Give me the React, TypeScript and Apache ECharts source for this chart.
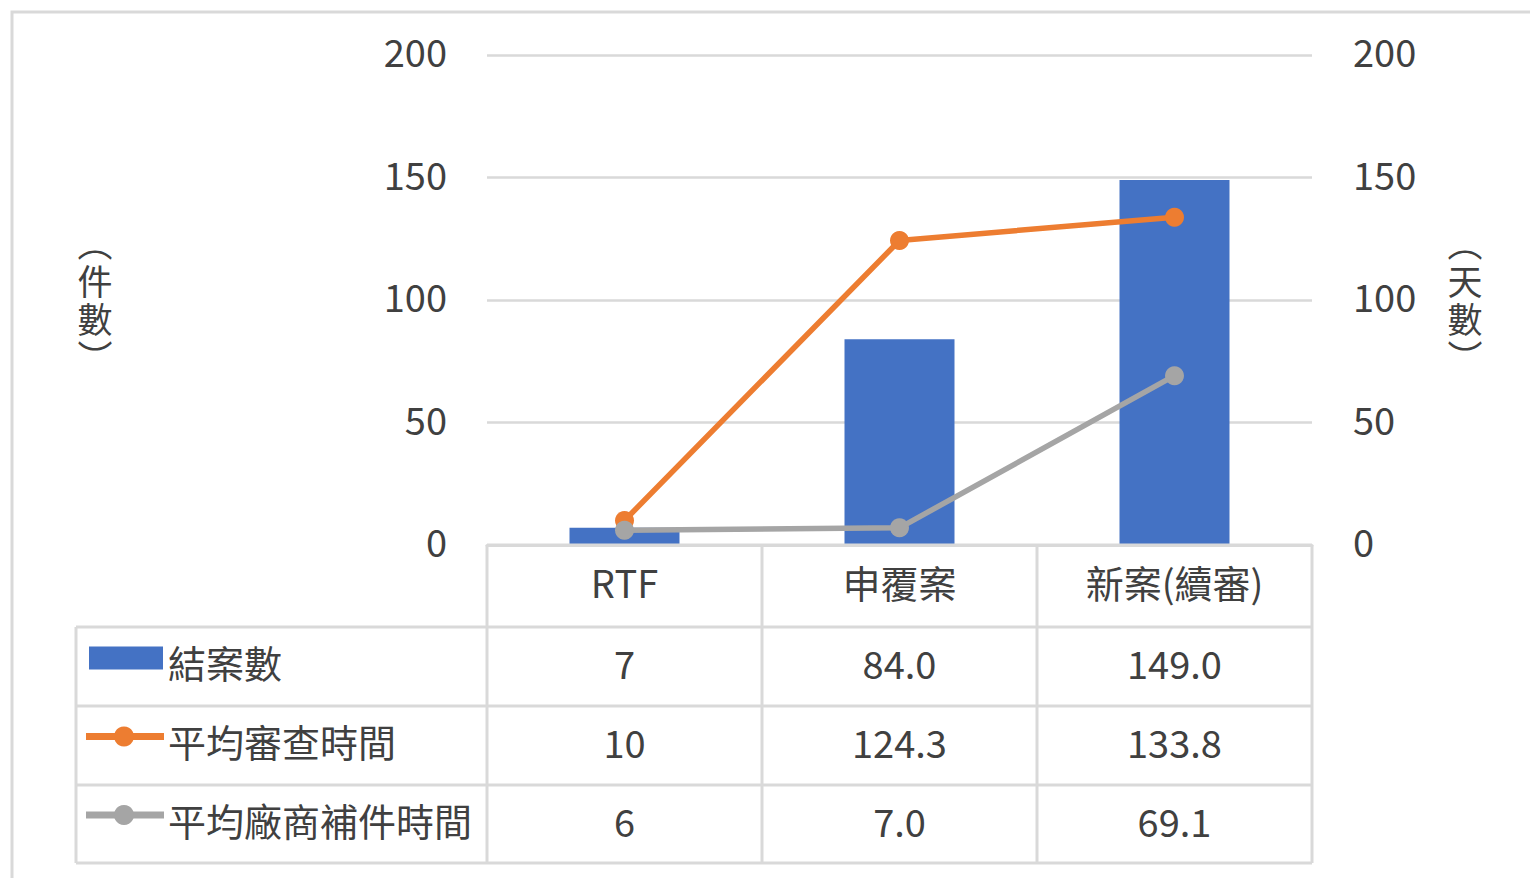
import React, { useEffect, useRef } from "react";
import * as echarts from "echarts";

// Categories and series values
const categories = ["RTF", "申覆案", "新案(續審)"];
const closedCases = [7, 84.0, 149.0];
const avgReviewDays = [10, 124.3, 133.8];
const avgSupplementDays = [6, 7.0, 69.1];
// Decimal places shown in each data-table column
const columnDecimals = [0, 1, 1];
const seriesNames = ["結案數", "平均審查時間", "平均廠商補件時間"];
const leftAxisTitle = ["︵", "件", "數", "︶"];
const rightAxisTitle = ["︵", "天", "數", "︶"];
const axisMin = 0;
const axisMax = 200;
const axisStep = 50;

const BLUE = "#4472C4";
const ORANGE = "#ED7D31";
const GRAY = "#A5A5A5";
const GRID_LINE = "#D9D9D9";
const TEXT = "#404040";
const FONT = '"Noto Sans CJK TC", "Noto Sans", sans-serif';
const FS = 38;

const W = 1530;
const H = 878;
const PLOT_LEFT = 487;
const PLOT_RIGHT = 1312;
const PLOT_TOP = 55;
const PLOT_BOTTOM = 545;
const TABLE_LEFT = 76;
const ROW_EDGES = [545, 627, 706, 785, 863];

export default function App() {
  const ref = useRef<HTMLDivElement>(null);

  useEffect(() => {
    const chart = echarts.init(ref.current!, null, { renderer: "svg" });
    const valueAxis = (position: "left" | "right", margin: number, split: boolean) => ({
      type: "value",
      position,
      min: axisMin,
      max: axisMax,
      interval: axisStep,
      axisLine: { show: false },
      axisTick: { show: false },
      splitLine: { show: split, lineStyle: { color: GRID_LINE, width: 2.5 } },
      axisLabel: {
        color: TEXT,
        fontSize: FS,
        fontFamily: FONT,
        margin,
        // a short line box set on the bottom lifts the digits onto the tick
        verticalAlign: "bottom",
        lineHeight: 9,
      },
    });

    chart.setOption({
      animation: false,
      backgroundColor: "#fff",
      grid: {
        left: PLOT_LEFT,
        right: W - PLOT_RIGHT,
        top: PLOT_TOP,
        bottom: H - PLOT_BOTTOM,
        containLabel: false,
      },
      xAxis: {
        type: "category",
        data: categories,
        axisLine: { show: true, lineStyle: { color: GRID_LINE, width: 3 } },
        axisTick: { show: false },
        axisLabel: { show: false },
      },
      yAxis: [valueAxis("left", 40, true), valueAxis("right", 41, false)],
      series: [
        {
          name: seriesNames[0],
          type: "bar",
          yAxisIndex: 0,
          data: closedCases,
          barWidth: "40%",
          itemStyle: { color: BLUE },
          z: 1,
        },
        {
          name: seriesNames[1],
          type: "line",
          yAxisIndex: 1,
          data: avgReviewDays,
          symbol: "circle",
          symbolSize: 19,
          lineStyle: { color: ORANGE, width: 5.5 },
          itemStyle: { color: ORANGE },
          z: 3,
        },
        {
          name: seriesNames[2],
          type: "line",
          yAxisIndex: 1,
          data: avgSupplementDays,
          symbol: "circle",
          symbolSize: 19,
          lineStyle: { color: GRAY, width: 5.5 },
          itemStyle: { color: GRAY },
          z: 4,
        },
      ],
    });

    const centers = categories.map((c) => chart.convertToPixel({ xAxisIndex: 0 }, c) as number);
    const colWidth = (PLOT_RIGHT - PLOT_LEFT) / categories.length;
    const els: any[] = [];
    const line = (x1: number, y1: number, x2: number, y2: number, color = GRID_LINE, w = 3) =>
      els.push({
        type: "line",
        silent: true,
        shape: { x1, y1, x2, y2 },
        style: { stroke: color, lineWidth: w },
        z: 10,
      });
    const text = (t: string, x: number, y: number, align: string, size = FS) =>
      els.push({
        type: "text",
        silent: true,
        x,
        y,
        style: {
          text: t,
          fill: TEXT,
          font: `${size}px ${FONT}`,
          fontSize: size,
          fontFamily: FONT,
          align,
          verticalAlign: "middle",
        },
        z: 12,
      });

    // chart frame
    els.push({
      type: "rect",
      silent: true,
      shape: { x: 12, y: 12, width: 1600, height: 1000 },
      style: { fill: "none", stroke: GRID_LINE, lineWidth: 3 },
      z: 0,
    });

    // data table grid
    line(PLOT_LEFT, ROW_EDGES[0], PLOT_RIGHT, ROW_EDGES[0]);
    for (let r = 1; r < ROW_EDGES.length; r++) line(TABLE_LEFT, ROW_EDGES[r], PLOT_RIGHT, ROW_EDGES[r]);
    for (let c = 0; c <= categories.length; c++) {
      const x = PLOT_LEFT + c * colWidth;
      line(x, ROW_EDGES[0], x, ROW_EDGES[ROW_EDGES.length - 1]);
    }
    line(TABLE_LEFT, ROW_EDGES[1], TABLE_LEFT, ROW_EDGES[ROW_EDGES.length - 1]);

    // header row
    const rowMid = (r: number) => (ROW_EDGES[r] + ROW_EDGES[r + 1]) / 2;
    categories.forEach((c, i) => text(c, centers[i], rowMid(0) - 5, "center"));

    // value rows with legend keys
    const rows = [closedCases, avgReviewDays, avgSupplementDays];
    const colors = [BLUE, ORANGE, GRAY];
    rows.forEach((vals, r) => {
      const y = rowMid(r + 1);
      if (r === 0) {
        els.push({
          type: "rect",
          silent: true,
          shape: { x: 89, y: y - 20, width: 74, height: 23 },
          style: { fill: colors[r] },
          z: 11,
        });
      } else {
        line(86, y - 9, 164, y - 9, colors[r], 7);
        els.push({
          type: "circle",
          silent: true,
          shape: { cx: 124, cy: y - 9, r: 10 },
          style: { fill: colors[r] },
          z: 11,
        });
      }
      text(seriesNames[r], 168, y - 5, "left");
      vals.forEach((v, i) => text(v.toFixed(columnDecimals[i]), centers[i], y - 4, "center"));
    });

    // axis titles, set vertically one character per slot
    const titleTop = 241;
    const pitch = 38;
    leftAxisTitle.forEach((ch, k) => text(ch, 95, titleTop + k * pitch, "center", 35));
    rightAxisTitle.forEach((ch, k) => text(ch, 1465, titleTop + k * pitch, "center", 35));

    chart.setOption({ graphic: { elements: els } });
    return () => chart.dispose();
  }, []);

  return (
    <div
      ref={ref}
      style={{ position: "fixed", left: 0, top: 0, width: W, height: H, background: "#fff" }}
    />
  );
}
